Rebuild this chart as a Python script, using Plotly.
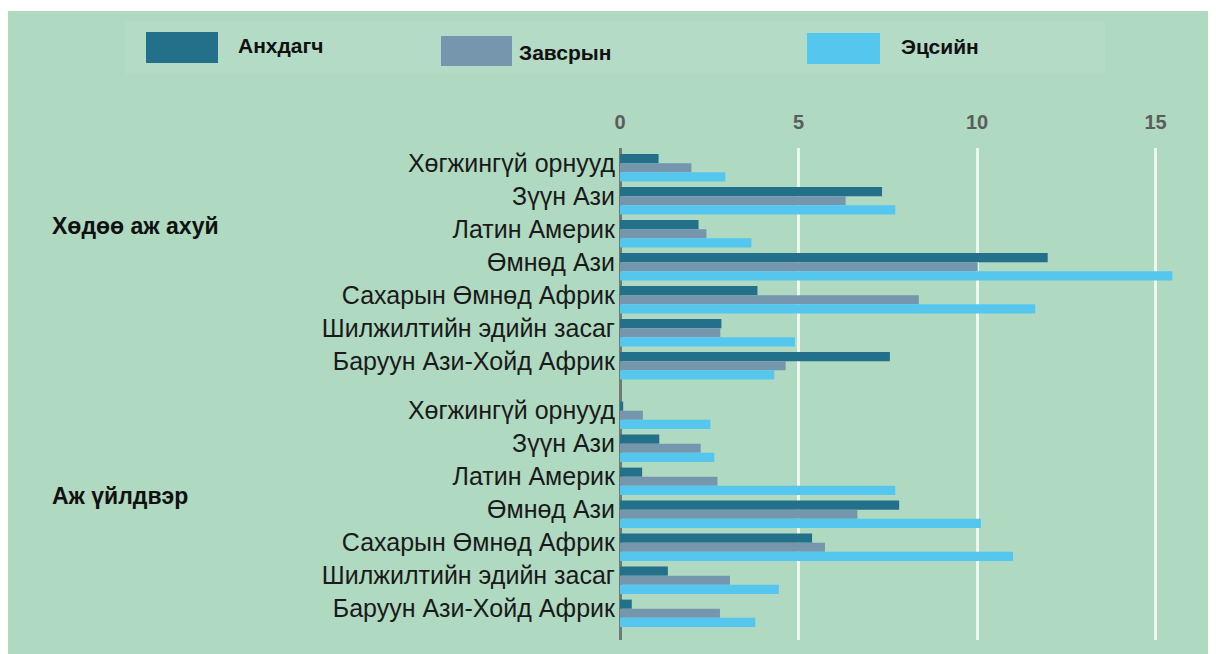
import plotly.graph_objects as go

# ---------------- data ----------------
regions = ["Хөгжингүй орнууд", "Зүүн Ази", "Латин Америк", "Өмнөд Ази",
           "Сахарын Өмнөд Африк", "Шилжилтийн эдийн засаг", "Баруун Ази-Хойд Африк"]
groups = ["Хөдөө аж ахуй", "Аж үйлдвэр"]
series_names = ["Анхдагч", "Завсрын", "Эцсийн"]

agri_primary = [1.08, 7.34, 2.20, 11.98, 3.85, 2.84, 7.56]
agri_inter = [2.00, 6.32, 2.42, 10.02, 8.37, 2.81, 4.64]
agri_final = [2.95, 7.71, 3.68, 15.47, 11.63, 4.90, 4.32]

ind_primary = [0.09, 1.10, 0.62, 7.82, 5.38, 1.34, 0.33]
ind_inter = [0.64, 2.26, 2.73, 6.65, 5.74, 3.08, 2.80]
ind_final = [2.53, 2.64, 7.71, 10.11, 11.01, 4.45, 3.79]

x_ticks = [0, 5, 10, 15]

# ---------------- style ----------------
colors = ["#22708a", "#7596ad", "#55c6ee"]
GREEN = "#afd9c1"
OFF = 8                      # page body margin of the html
PAGE_W, PAGE_H = 1216, 654
W, H = PAGE_W - OFF, PAGE_H - OFF
# plot area in page pixels
PL, PR, PT, PB = 620, 1216, 148, 640
L, T = PL - OFF, PT - OFF
R, B = PAGE_W - PR, PAGE_H - PB
GROUP_GAP = 1.5
SLOT_PX = 33.0
Y_START = -0.6
LABEL_SHIFT = 0.15

n = len(regions)
positions = [g * (n + GROUP_GAP - 1) + i for g in range(len(groups)) for i in range(n)]
labels = regions + regions
values = [agri_primary + ind_primary, agri_inter + ind_inter, agri_final + ind_final]

fig = go.Figure()
for name, vals, col in zip(series_names, values, colors):
    fig.add_trace(go.Bar(
        x=vals, y=positions, orientation="h", name=name,
        marker=dict(color=col, line=dict(width=0)),
        showlegend=False,
    ))

pw, ph = PR - PL, PB - PT


def px_x(p):
    return (p - PL) / pw


def px_y(p):
    return (PB - p) / ph


shapes = []
annotations = []

# white strip above the green panel
shapes.append(dict(type="rect", xref="paper", yref="paper", layer="above",
                   x0=px_x(0), x1=px_x(PAGE_W), y0=px_y(11), y1=px_y(0),
                   fillcolor="white", line=dict(width=0)))
# faint legend panel
shapes.append(dict(type="rect", xref="paper", yref="paper", layer="below",
                   x0=px_x(125), x1=px_x(1105), y0=px_y(74), y1=px_y(21),
                   fillcolor="#b3dbc5", line=dict(width=0)))

# custom legend swatches
legend_items = [
    (146, 218, 32, 63, 236, 45),
    (441, 512, 36, 66, 517, 52),
    (807, 880, 33, 64, 899, 46),
]
for (x0, x1, y0, y1, tx, ty), name, col in zip(legend_items, series_names, colors):
    shapes.append(dict(type="rect", xref="paper", yref="paper", layer="above",
                       x0=px_x(x0), x1=px_x(x1), y0=px_y(y1), y1=px_y(y0),
                       fillcolor=col, line=dict(width=0)))
    annotations.append(dict(text=name, xref="paper", yref="paper",
                            x=px_x(tx), y=px_y(ty), xanchor="left", yanchor="middle",
                            showarrow=False,
                            font=dict(family="Liberation Sans, Arial", size=21,
                                      color="#111111", weight="bold")))

# group labels
group_label_y = [1.75, 9.95]
for gname, gy in zip(groups, group_label_y):
    annotations.append(dict(text=gname, xref="paper", yref="y",
                            x=px_x(50), y=gy, xanchor="left", yanchor="middle",
                            showarrow=False,
                            font=dict(family="Liberation Sans, Arial", size=23,
                                      color="#111111", weight="bold")))

fig.update_layout(
    width=W, height=H,
    margin=dict(l=L, r=R, t=T, b=B, pad=0),
    paper_bgcolor=GREEN, plot_bgcolor=GREEN,
    barmode="group", bargap=0.17, bargroupgap=0,
    shapes=shapes, annotations=annotations,
    showlegend=False,
)
fig.update_xaxes(
    side="top", range=[0, pw / 35.7],
    tickvals=x_ticks, ticktext=[str(t) for t in x_ticks],
    showgrid=True, gridcolor="#eef6f0", gridwidth=3,
    zeroline=True, zerolinecolor="#6f7a74", zerolinewidth=3,
    ticks="", ticklabelstandoff=14,
    tickfont=dict(family="Liberation Sans, Arial", size=20, color="#5c5c5c", weight="bold"),
    showline=False,
)
fig.update_yaxes(
    range=[Y_START + ph / SLOT_PX, Y_START],
    tickvals=[p - LABEL_SHIFT for p in positions], ticktext=labels,
    showgrid=False, zeroline=False, showline=False, ticks="",
    ticklabelstandoff=4,
    tickfont=dict(family="Liberation Sans, Arial", size=25, color="#1a1a1a"),
)

fig.write_html("out.html")
